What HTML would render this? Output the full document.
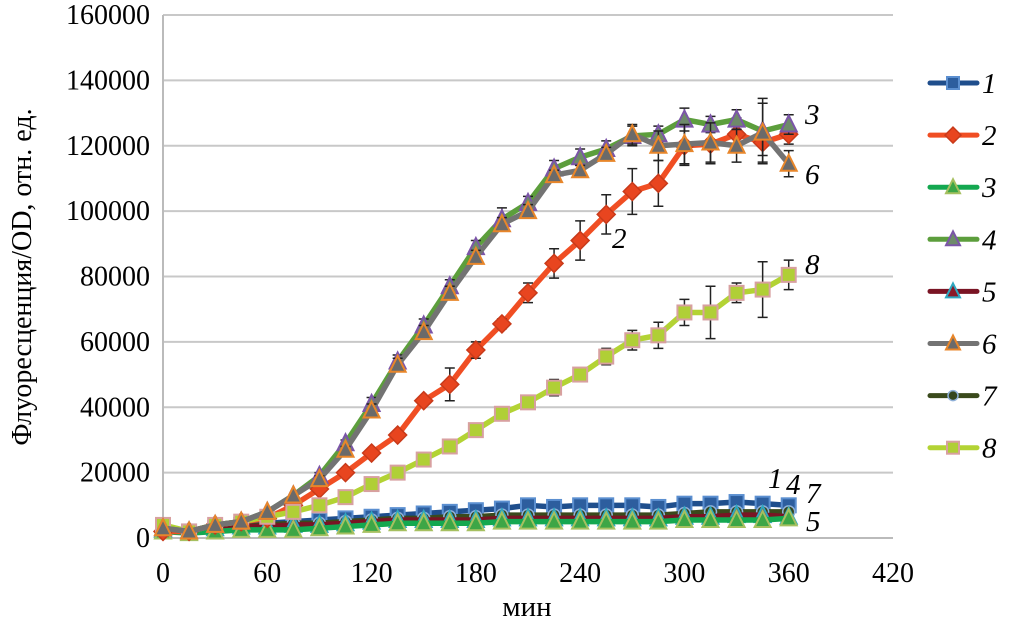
<!DOCTYPE html>
<html><head><meta charset="utf-8"><style>
body{margin:0;background:#fff;}
svg{display:block;font-family:"Liberation Serif",serif;}
</style></head><body>
<svg id="chart" width="1024" height="639" xmlns="http://www.w3.org/2000/svg">
<g id="grid"></g>
<g id="axes"></g>
<g id="series"></g>
<g id="legend"></g>
<text x="527" y="616" font-size="29" text-anchor="middle">мин</text>
<text transform="translate(31,277) rotate(-90)" font-size="28" text-anchor="middle">Флуоресценция/OD, отн. ед.</text>
<g font-size="29" font-style="italic">
<text x="805" y="124">3</text>
<text x="805" y="184">6</text>
<text x="612" y="248">2</text>
<text x="805" y="274">8</text>
<text x="768" y="488">1</text>
<text x="786" y="494">4</text>
<text x="806" y="503">7</text>
<text x="806" y="531">5</text>
</g>
</svg>
<script>
const times=[0,15,30,45,60,75,90,105,120,135,150,165,180,195,210,225,240,255,270,285,300,315,330,345,360];
const s1=[3,2,3,4,4.5,5,5.5,6,6.5,7,7.5,8,8.5,9,10,9.5,10,10,10,9.5,10.5,10.5,11,10.5,10];
const s2=[2,2,4,5,6,10,15,20,26,31.5,42,47,57.5,65.5,75,84,91,99,106,108.5,120,120.5,123.5,121,123.5];
const s3=[2,1.5,2,2.5,2.5,2.5,3,3.5,4,4.5,4.5,4.5,4.5,5,5,5,5,5,5,5,5.5,5.5,5.5,5.5,6];
const s4=[3,2,4,5,8,13,19,29,41,54,65,77,89,97.5,102.5,113,116.5,119,123,123.5,128,126.5,128,124.5,126.5];
const s5=[2.5,2,3,3.5,3.5,4,4,4.5,5,5.5,5.5,5.5,5.5,6,6,6,6,6,6,6,6.5,6.5,7,7,6.5];
const s6=[3,2,4,5,8,13,18,27,39,53,63,75,86,96,100,111,112.5,117.5,123.5,120,120.5,121,120,124,114.5];
const s7=[3,2,3,3.5,4,4.5,4.5,5,5.5,6,6,6.5,6.5,7,7,7,7,7,7,7,7.5,8,8,8,8];
const s8=[4,2,4,5,6.5,8,10,12.5,16.5,20,24,28,33,38,41.5,46,50,55.5,60.5,62,69,69,75,76,80.5];
const err2=[0,0,0,0,0,0,0,1,1,1,1,5,2.5,1.5,3,4.5,6,6,7,7,6,6,5,4,3];
const err4=[0,0,0,0,0,0,1,1,2,2,2,2,2,3.5,2,2.5,2.5,2.5,3,2.5,3.5,2.5,3,10,3];
const err6=[0,0,0,0,0,0,1,1,2,2,2,2,2,2,2,1.5,1.5,2,3,4.5,6,6,5,9,4];
const err8=[0,0,0,0,0,0,0,0,0,0,0,0,0,1.5,0,2.5,2,2.5,3,4,4,8,3,8.5,4.5];
const xTicks=[0,60,120,180,240,300,360,420];
const yTicks=[0,20000,40000,60000,80000,100000,120000,140000,160000];
const NS="http://www.w3.org/2000/svg";
const X=v=>163+v*(730/420);
const Y=v=>538-v*(523/160000);
const K=v=>Y(v*1000);
function el(t,a,p){const e=document.createElementNS(NS,t);for(const k in a)e.setAttribute(k,a[k]);p.appendChild(e);return e;}
const grid=document.getElementById('grid'),axes=document.getElementById('axes'),ser=document.getElementById('series'),leg=document.getElementById('legend');
yTicks.forEach(v=>{
 const l=el('line',{x1:163,x2:893,y1:Y(v),y2:Y(v),stroke:'#c8c8c8','stroke-width':2},grid);
 
 
 const t=el('text',{x:150,y:Y(v)+9,'font-size':28,'text-anchor':'end'},axes);t.textContent=v;
 
 
});
xTicks.forEach(v=>{
 const t=el('text',{x:X(v),y:582,'font-size':28,'text-anchor':'middle'},axes);t.textContent=v;
 
 
});
const ya=el('line',{x1:163,x2:163,y1:15,y2:538,stroke:'#bbb','stroke-width':2},axes);


const xa=el('line',{x1:163,x2:893,y1:538,y2:538,stroke:'#bbb','stroke-width':2},axes);


function marker(p,type,cx,cy,fill,stroke,s){
 let e;
 if(type==='sq')e=el('rect',{x:cx-s,y:cy-s,width:2*s,height:2*s,fill,stroke,'stroke-width':2},p);
 else if(type==='dia')e=el('polygon',{points:`${cx},${cy-s-2} ${cx+s+2},${cy} ${cx},${cy+s+2} ${cx-s-2},${cy}`,fill,stroke,'stroke-width':1.5},p);
 else if(type==='tri')e=el('polygon',{points:`${cx},${cy-s-2} ${cx+s+1},${cy+s} ${cx-s-1},${cy+s}`,fill,stroke,'stroke-width':2},p);
 else e=el('circle',{cx,cy,r:s,fill,stroke,'stroke-width':1.5},p);
 return e;
}
const defs=[
 {n:'1',d:s1,line:'#1f4e8c',type:'sq',fill:'#2d5e9e',stroke:'#5b8fd0',s:7},
 {n:'2',d:s2,line:'#f04e23',type:'dia',fill:'#e8451f',stroke:'#c83a1a',s:7},
 {n:'3',d:s3,line:'#14a850',type:'tri',fill:'#3da646',stroke:'#a6c060',s:7},
 {n:'4',d:s4,line:'#5c9e3c',type:'tri',fill:'#6e8a6a',stroke:'#7b55a8',s:7},
 {n:'5',d:s5,line:'#7a1424',type:'tri',fill:'#8a1a28',stroke:'#2fa8c0',s:7},
 {n:'6',d:s6,line:'#737373',type:'tri',fill:'#6a6a6a',stroke:'#e8862a',s:7},
 {n:'7',d:s7,line:'#3a4a1c',type:'circ',fill:'#35461e',stroke:'#8fb0d8',s:6},
 {n:'8',d:s8,line:'#b3d334',type:'sq',fill:'#b0cf36',stroke:'#d8a0a0',s:7}
];
const errs={'2':err2,'4':err4,'6':err6,'8':err8};
[0,6,4,2,1,7,3,5].forEach(i=>{
 const sd=defs[i];
 const g=el('g',{},ser);
 
 
 const pl=el('polyline',{points:times.map((t,j)=>X(t)+','+K(sd.d[j])).join(' '),fill:'none',stroke:sd.line,'stroke-width':5.5,'stroke-linejoin':'round'},g);
 
 
 const er=errs[sd.n];
 if(er)times.forEach((t,j)=>{if(er[j]>0){
   const x=X(t),y1=K(sd.d[j]-er[j]),y2=K(sd.d[j]+er[j]);
   const eb=el('path',{d:`M${x},${y1}V${y2}M${x-5},${y1}H${x+5}M${x-5},${y2}H${x+5}`,stroke:'#222','stroke-width':1.5,fill:'none'},g);
   
   
 }});
 times.forEach((t,j)=>{
   const m=marker(g,sd.type,X(t),K(sd.d[j]),sd.fill,sd.stroke,sd.s);
   
   
 });
});
defs.forEach((sd,i)=>{
 const y=83+i*52.1;
 const g=el('g',{},leg);
 
 
 el('line',{x1:930,x2:977,y1:y,y2:y,stroke:sd.line,'stroke-width':5,'stroke-linecap':'round'},g);
 marker(g,sd.type,953,y,sd.fill,sd.stroke,sd.type==='circ'?5:6);
 const t=el('text',{x:982,y:y+10,'font-size':29,'font-style':'italic'},g);t.textContent=sd.n;
});
</script>
</body></html>
